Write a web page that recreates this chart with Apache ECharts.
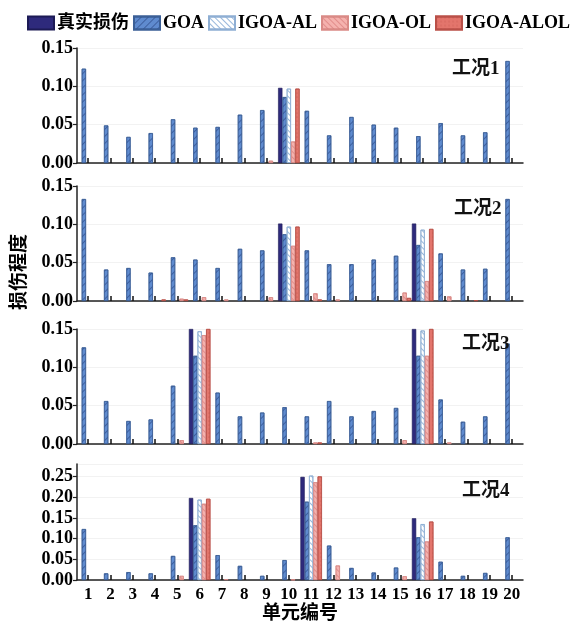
<!DOCTYPE html>
<html><head><meta charset="utf-8">
<script src="https://cdn.jsdelivr.net/npm/echarts@6/dist/echarts.min.js"></script>
<style>html,body{margin:0;padding:0;background:#fff}#c{width:576px;height:622px}</style>
</head><body><div id="c"></div>
<script>
const categories = ['1','2','3','4','5','6','7','8','9','10','11','12','13','14','15','16','17','18','19','20'];
const seriesNames = ['真实损伤','GOA','IGOA-AL','IGOA-OL','IGOA-ALOL'];
const caseLabels = ['工况1','工况2','工况3','工况4'];

// 工况1
const true1 = [0,0,0,0,0,0,0,0,0,0.098,0,0,0,0,0,0,0,0,0,0];
const goa1  = [0.123,0.049,0.034,0.039,0.057,0.046,0.047,0.063,0.069,0.086,0.068,0.036,0.060,0.050,0.046,0.035,0.052,0.036,0.040,0.133];
const al1   = [0,0,0,0,0,0,0,0,0,0.097,0,0,0,0,0,0,0,0,0,0];
const ol1   = [0,0,0,0,0,0,0,0,0.003,0.028,0,0,0,0,0,0,0,0,0,0];
const alol1 = [0,0,0,0,0,0,0,0,0,0.097,0,0,0,0,0,0,0,0,0,0];
// 工况2
const true2 = [0,0,0,0,0,0,0,0,0,0.101,0,0,0,0,0,0.101,0,0,0,0];
const goa2  = [0.133,0.041,0.043,0.037,0.057,0.054,0.043,0.068,0.066,0.087,0.066,0.048,0.048,0.054,0.059,0.073,0.062,0.041,0.042,0.133];
const al2   = [0,0,0,0,0,0,0,0,0,0.097,0,0,0,0,0,0.093,0,0,0,0];
const ol2   = [0,0,0,0,0.003,0.005,0.002,0,0.005,0.072,0.010,0.002,0,0,0.011,0.026,0.006,0,0,0];
const alol2 = [0,0,0,0.002,0.002,0,0,0,0,0.097,0.002,0,0,0,0.004,0.094,0,0.001,0,0];
// 工况3
const true3 = [0,0,0,0,0,0.15,0,0,0,0,0,0,0,0,0,0.15,0,0,0,0];
const goa3  = [0.126,0.056,0.030,0.032,0.076,0.115,0.067,0.036,0.041,0.048,0.036,0.056,0.036,0.043,0.047,0.115,0.058,0.029,0.036,0.131];
const al3   = [0,0,0,0,0,0.147,0,0,0,0,0,0,0,0,0,0.148,0,0,0,0];
const ol3   = [0,0,0,0,0.005,0.142,0,0,0,0,0.002,0,0,0,0.005,0.115,0.002,0,0,0];
const alol3 = [0,0,0,0,0,0.15,0,0,0,0,0.002,0,0,0,0,0.15,0,0,0,0];
// 工况4
const true4 = [0,0,0,0,0,0.198,0,0,0,0,0.249,0,0,0,0,0.149,0,0,0,0];
const goa4  = [0.123,0.016,0.019,0.016,0.058,0.132,0.060,0.034,0.010,0.048,0.189,0.083,0.029,0.018,0.030,0.103,0.044,0.010,0.017,0.103];
const al4   = [0,0,0,0,0,0.194,0,0,0,0,0.252,0,0,0,0,0.135,0,0,0,0];
const ol4   = [0,0,0,0,0.010,0.184,0.002,0,0,0.001,0.236,0.035,0,0,0.009,0.093,0,0,0,0];
const alol4 = [0,0,0,0,0,0.196,0,0,0,0,0.250,0,0,0,0,0.141,0,0,0,0];

const panels = [
  [true1, goa1, al1, ol1, alol1],
  [true2, goa2, al2, ol2, alol2],
  [true3, goa3, al3, ol3, alol3],
  [true4, goa4, al4, ol4, alol4]
];

const FONT = "'Liberation Serif','Noto Sans CJK SC',serif";
const styles = [
  {color:'#2e2a7c', borderColor:'#1c1a55', borderWidth:0.6},
  {color:'#5f8bcf', borderColor:'#3b5f96', borderWidth:0.7,
   decal:{symbol:'rect', symbolSize:1, dashArrayX:[[1,0]], dashArrayY:[1,4], rotation:-Math.PI/4, color:'rgba(35,60,120,0.55)'}},
  {color:'#ffffff', borderColor:'#8eaed3', borderWidth:0.8,
   decal:{symbol:'rect', symbolSize:1, dashArrayX:[[1,0]], dashArrayY:[1,3], rotation:Math.PI/4, color:'rgba(140,175,215,0.9)'}},
  {color:'#f5b2ae', borderColor:'#d98a86', borderWidth:0.7,
   decal:{symbol:'rect', symbolSize:1, dashArrayX:[[1,0]], dashArrayY:[1,3], rotation:Math.PI/4, color:'rgba(210,110,110,0.55)'}},
  {color:'#e3756c', borderColor:'#b95048', borderWidth:0.7,
   decal:{symbol:'circle', symbolSize:0.5, dashArrayX:[2,2], dashArrayY:[2,2], color:'rgba(170,60,55,0.6)'}}
];

const grids = [
  {left:77, right:53, top:48, height:115},
  {left:77, right:53, top:186, height:115},
  {left:77, right:53, top:329, height:115},
  {left:77, right:53, top:464, height:116}
];
const maxes = [0.15, 0.15, 0.15, 0.28];

const xAxes = grids.map((g,i)=>({
  type:'category', gridIndex:i, data:categories, boundaryGap:true,
  axisLine:{show:true, lineStyle:{color:'#222', width:1.5}},
  axisTick:{show:true, inside:true, alignWithLabel:true, length:5, lineStyle:{color:'#111', width:1.5}},
  axisLabel:{show:i===3, interval:0, margin:6, color:'#000', fontSize:17, fontWeight:'bold', fontFamily:FONT}
}));
const yAxes = grids.map((g,i)=>({
  type:'value', gridIndex:i, min:0, max:maxes[i], interval:0.05,
  axisLine:{show:true, lineStyle:{color:'#222', width:1.5}},
  axisTick:{show:true, length:4, lineStyle:{color:'#222', width:1.2}},
  axisLabel:{margin:4, color:'#000', fontSize:18, fontWeight:'bold', fontFamily:FONT,
    showMaxLabel: i!==3, formatter:v=>v.toFixed(2)},
  splitLine:{show:true, lineStyle:{color:'#f2f2f2', width:1}}
}));

const series = [];
panels.forEach((arrs,gi)=>{
  arrs.forEach((d,si)=>{
    series.push({type:'bar', name:seriesNames[si], data:d.map(v=>v===0?'-':v), xAxisIndex:gi, yAxisIndex:gi,
      barWidth:4.3, barGap:'0%', itemStyle:styles[si], emphasis:{disabled:true}, animation:false});
  });
});

const titlePos = [[447,55],[449,195],[457,330],[457,477]];
const titles = caseLabels.map((t,i)=>({text:t, left:titlePos[i][0], top:titlePos[i][1],
  textStyle:{fontSize:19, fontWeight:'bold', color:'#111', fontFamily:FONT}}));

const chart = echarts.init(document.getElementById('c'), null, {renderer:'canvas'});
chart.setOption({
  backgroundColor:'#fff',
  animation:false,
  title:titles,
  legend:{data:seriesNames, left:22, top:9, icon:'rect', itemWidth:26, itemHeight:13, itemGap:4,
    textStyle:{fontSize:18, fontWeight:'bold', color:'#000', fontFamily:FONT, padding:[0,0,0,-2]}},
  grid:grids,
  xAxis:xAxes,
  yAxis:yAxes,
  series:series,
  graphic:[
    {type:'text', x:18, y:272, rotation:Math.PI/2,
     style:{text:'损伤程度', fill:'#000', font:"bold 19px 'Noto Sans CJK SC'", textAlign:'center', textVerticalAlign:'middle'}},
    {type:'text', x:300, y:612,
     style:{text:'单元编号', fill:'#000', font:"bold 19px 'Noto Sans CJK SC'", textAlign:'center', textVerticalAlign:'middle'}}
  ]
});
</script></body></html>
